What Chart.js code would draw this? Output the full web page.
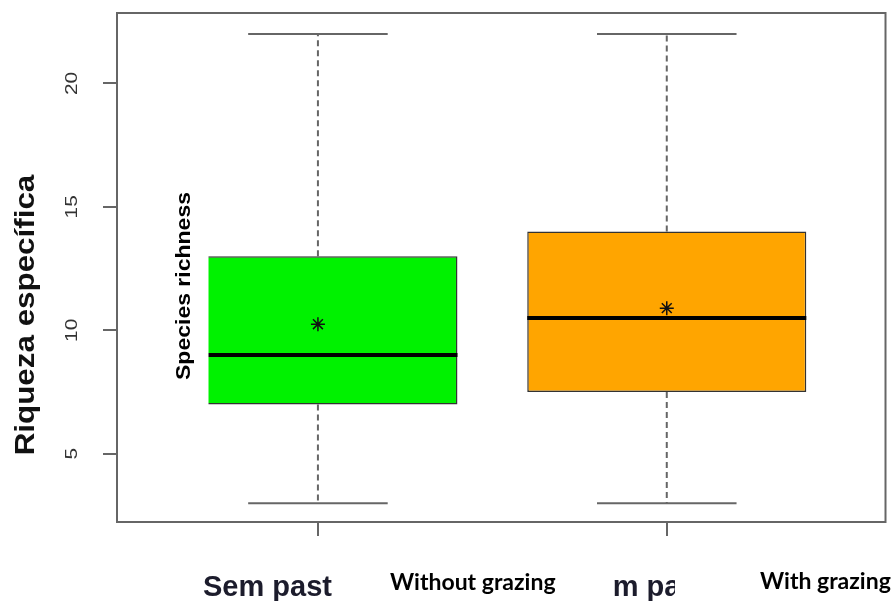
<!DOCTYPE html>
<html lang="en">
<head>
<meta charset="UTF-8">
<title>Riqueza específica</title>
<script src="https://cdn.jsdelivr.net/npm/chart.js"></script>
<style>
  html, body { margin: 0; padding: 0; background: #fff; }
</style>
</head>
<body>
<canvas id="boxChart" width="894" height="601"></canvas>
<script>
// values
const groups = ['Sem pastejo', 'Com pastejo'];
const groupLabels = ['Without grazing', 'With grazing'];
const groupPos = [1, 2];
const whiskerLow = [3, 3];
const q1 = [7, 7.5];
const medians = [9, 10.5];
const q3 = [13, 14];
const whiskerHigh = [22, 22];
const means = [10.25, 10.9];
const yTicks = [5, 10, 15, 20];
const yTitle = 'Riqueza específica';
const overlayTitle = 'Species richness';
const boxColors = ['#00f200', '#ffa500'];

function vText(ctx, text, cx, cy, font, stretch, color) {
    ctx.save();
    ctx.translate(cx, cy);
    ctx.rotate(-Math.PI / 2);
    ctx.scale(stretch, 1);
    ctx.font = font;
    ctx.fillStyle = color;
    ctx.textAlign = 'center';
    ctx.textBaseline = 'middle';
    ctx.fillText(text, 0, 0);
    ctx.restore();
}

function seg(ctx, x1, y1, x2, y2) {
    ctx.beginPath();
    ctx.moveTo(x1, y1);
    ctx.lineTo(x2, y2);
    ctx.stroke();
}

const boxExtras = {
    id: 'boxExtras',
    beforeDatasetsDraw(chart) {
        const { ctx, scales: { x, y } } = chart;
        ctx.save();
        ctx.strokeStyle = '#666';
        ctx.lineWidth = 2;
        groupPos.forEach((g, i) => {
            const cx = x.getPixelForValue(g);
            // dashed whiskers
            ctx.setLineDash([6, 4]);
            seg(ctx, cx, y.getPixelForValue(q3[i]), cx, y.getPixelForValue(whiskerHigh[i]));
            seg(ctx, cx, y.getPixelForValue(q1[i]), cx, y.getPixelForValue(whiskerLow[i]));
            ctx.setLineDash([]);
            // staples
            const l = x.getPixelForValue(g - 0.2), r = x.getPixelForValue(g + 0.2);
            seg(ctx, l, y.getPixelForValue(whiskerHigh[i]), r, y.getPixelForValue(whiskerHigh[i]));
            seg(ctx, l, y.getPixelForValue(whiskerLow[i]), r, y.getPixelForValue(whiskerLow[i]));
        });
        ctx.restore();
    },
    afterDatasetDraw(chart, args) {
        if (args.index !== 0) return;
        const { ctx, scales: { x, y } } = chart;
        ctx.save();
        ctx.strokeStyle = '#000';
        ctx.lineWidth = 4;
        groupPos.forEach((g, i) => {
            const my = y.getPixelForValue(medians[i]);
            seg(ctx, x.getPixelForValue(g - 0.4), my, x.getPixelForValue(g + 0.4), my);
        });
        ctx.restore();
    },
    afterDraw(chart) {
        const { ctx, chartArea: a, scales: { y } } = chart;
        ctx.save();
        // plot frame
        ctx.strokeStyle = '#666';
        ctx.lineWidth = 2;
        ctx.strokeRect(a.left, a.top, a.right - a.left, a.bottom - a.top);

        // y tick labels, rotated like R
        yTicks.forEach(v => {
            vText(ctx, String(v), 73, y.getPixelForValue(v), '16px "Liberation Sans"', 1.3, '#333');
        });
        vText(ctx, yTitle, 26, 315, 'bold 28px "Liberation Sans"', 1.12, '#111');

        // original group labels
        ctx.font = 'bold 29px "Liberation Sans"';
        ctx.fillStyle = '#1c1c2c';
        ctx.textAlign = 'left';
        ctx.textBaseline = 'alphabetic';
        ctx.fillText(groups[0], 203, 596);
        ctx.fillText(groups[1], 574, 596);

        // pasted english labels with white backgrounds
        ctx.fillStyle = '#fff';
        ctx.fillRect(166, 180, 42.5, 230);
        ctx.fillRect(332, 555, 280, 46);
        ctx.fillRect(675, 555, 219, 46);
        vText(ctx, overlayTitle, 184, 286, 'bold 20px "Liberation Sans"', 1.15, '#000');
        ctx.font = 'bold 23px Lato';
        ctx.fillStyle = '#000';
        ctx.fillText(groupLabels[0], 390, 590);
        ctx.fillText(groupLabels[1], 760, 589);
        ctx.restore();
    }
};

const ctx = document.getElementById('boxChart').getContext('2d');
new Chart(ctx, {
    type: 'bar',
    data: {
        datasets: [{
            type: 'bar',
            label: 'box',
            order: 2,
            data: groupPos.map((g, i) => ({ x: g, y: [q1[i], q3[i]] })),
            backgroundColor: boxColors,
            borderColor: '#333',
            borderWidth: 1.5,
            borderSkipped: false,
            barPercentage: 0.8,
            categoryPercentage: 1
        }, {
            type: 'scatter',
            label: 'mean',
            order: 1,
            data: groupPos.map((g, i) => ({ x: g, y: means[i] })),
            pointStyle: 'star',
            pointRadius: 7,
            pointBorderColor: '#111',
            pointBackgroundColor: '#111',
            pointBorderWidth: 1.5
        }]
    },
    options: {
        responsive: false,
        animation: false,
        layout: { padding: { top: 13, right: 8, left: 0, bottom: 0 } },
        plugins: { legend: { display: false }, tooltip: { enabled: false } },
        scales: {
            x: {
                type: 'linear',
                min: 0.424,
                max: 2.627,
                offset: false,
                afterBuildTicks: s => { s.ticks = groupPos.map(v => ({ value: v })); },
                afterFit: s => { s.height = 79; },
                ticks: { display: false },
                border: { display: false },
                grid: { offset: false, drawOnChartArea: false, tickLength: 14, color: '#666', lineWidth: 2 }
            },
            y: {
                min: 2.24,
                max: 22.85,
                afterBuildTicks: s => { s.ticks = yTicks.map(v => ({ value: v })); },
                afterFit: s => { s.width = 117; },
                ticks: { display: false },
                border: { display: false },
                grid: { drawOnChartArea: false, tickLength: 14, color: '#666', lineWidth: 2 }
            }
        }
    },
    plugins: [boxExtras]
});
</script>
</body>
</html>
